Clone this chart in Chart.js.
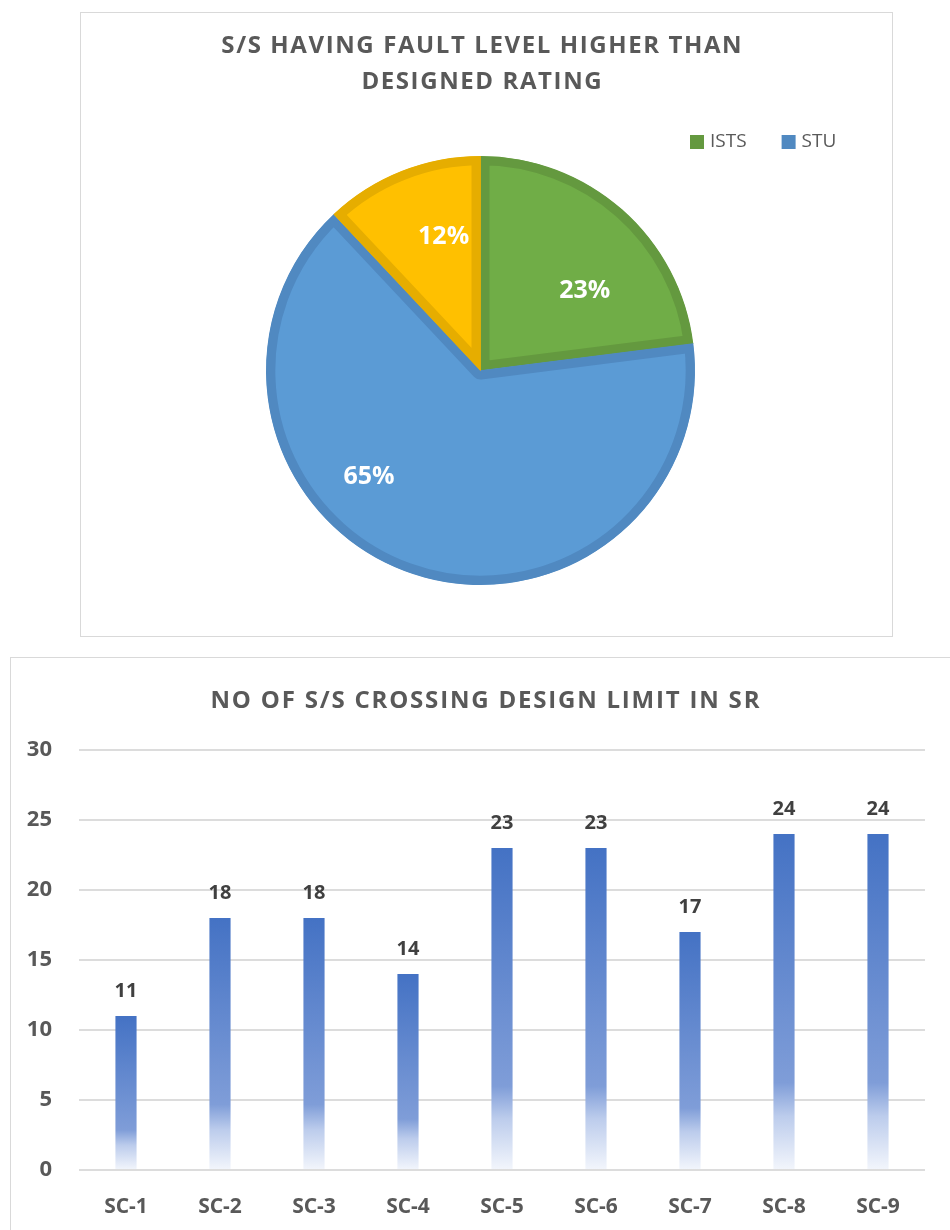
<!DOCTYPE html>
<html><head><meta charset="utf-8">
<script src="https://cdn.jsdelivr.net/npm/chart.js@4.4.0/dist/chart.umd.min.js"></script>
<style>
html,body{margin:0;padding:0;background:#fff;overflow:hidden;width:950px;height:1230px;position:relative;}
.box{position:absolute;box-sizing:border-box;border:1px solid #d9d9d9;background:#fff;}
#pieBox{left:80px;top:12px;width:813px;height:625px;}
#barBox{left:10px;top:657px;width:950px;height:590px;}
canvas{display:block;}
</style></head><body>
<div id="pieBox" class="box"><canvas id="pie" width="811" height="623" style="width:811px;height:623px"></canvas></div>
<div id="barBox" class="box"><canvas id="bar" width="948" height="588" style="width:948px;height:588px"></canvas></div>
<script>
// ---- data ----
const pieTitleLines = ['S/S HAVING FAULT LEVEL HIGHER THAN', 'DESIGNED RATING'];
const pieLabels = ['ISTS', 'STU', ''];
const pieValues = [23, 65, 12];
const pieFill = ['#70AD47', '#5B9BD5', '#FFC000'];
const pieBorder = ['#64993F', '#5089C1', '#E6AD00'];

const barTitle = 'NO OF S/S CROSSING DESIGN LIMIT IN SR';
const barCategories = ['SC-1', 'SC-2', 'SC-3', 'SC-4', 'SC-5', 'SC-6', 'SC-7', 'SC-8', 'SC-9'];
const barValues = [11, 18, 18, 14, 23, 23, 17, 24, 24];
const yTicks = [0, 5, 10, 15, 20, 25, 30];

const FONT = "'Open Sans', 'DejaVu Sans', sans-serif";

// ---- plugins ----
const titlePlugin = {
  id: 'customTitle',
  afterDraw(chart, args, o) {
    const ctx = chart.ctx; ctx.save();
    ctx.font = `${o.weight} ${o.size}px ${FONT}`;
    ctx.fillStyle = o.color; ctx.textAlign = 'center'; ctx.textBaseline = 'middle';
    if ('letterSpacing' in ctx) ctx.letterSpacing = o.spacing + 'px';
    o.lines.forEach((l, i) => ctx.fillText(l, o.x + o.spacing / 2, o.y + i * o.lineHeight));
    ctx.restore();
  }
};
const pieLegendPlugin = {
  id: 'pieLegend',
  afterDraw(chart, args, o) {
    const ctx = chart.ctx; ctx.save();
    ctx.font = `${o.size}px ${FONT}`; ctx.textBaseline = 'middle'; ctx.textAlign = 'left';
    let x = o.x;
    chart.data.labels.forEach((lab, i) => {
      if (!lab) return;
      ctx.fillStyle = chart.data.datasets[0].borderColor[i];
      ctx.fillRect(x, o.y - o.box / 2, o.box, o.box);
      ctx.fillStyle = o.color;
      ctx.fillText(lab, x + o.box + o.gap, o.y);
      x += o.box + o.gap + ctx.measureText(lab).width + o.itemGap;
    });
    ctx.restore();
  }
};
const pieValuePlugin = {
  id: 'pieValues',
  afterDatasetsDraw(chart, args, o) {
    const ctx = chart.ctx; const meta = chart.getDatasetMeta(0);
    ctx.save();
    ctx.font = `700 ${o.size}px ${FONT}`; ctx.fillStyle = '#ffffff';
    ctx.textAlign = 'center'; ctx.textBaseline = 'middle';
    meta.data.forEach((arc, i) => {
      const p = arc.getProps(['x', 'y', 'startAngle', 'endAngle', 'outerRadius'], true);
      const a = p.startAngle + o.angleFrac[i] * (p.endAngle - p.startAngle);
      const r = o.radiusFrac[i] * p.outerRadius;
      ctx.fillText(chart.data.datasets[0].data[i] + '%', p.x + Math.cos(a) * r, p.y + Math.sin(a) * r);
    });
    ctx.restore();
  }
};
const barValuePlugin = {
  id: 'barValues',
  afterDatasetsDraw(chart, args, o) {
    const ctx = chart.ctx; const meta = chart.getDatasetMeta(0);
    ctx.save();
    ctx.font = `700 ${o.size}px ${FONT}`; ctx.fillStyle = o.color;
    ctx.textAlign = 'center'; ctx.textBaseline = 'middle';
    meta.data.forEach((bar, i) => {
      ctx.fillText(String(chart.data.datasets[0].data[i]), bar.x, bar.y - o.offset);
    });
    ctx.restore();
  }
};

function barGradient(c) {
  const chart = c.chart; const y = chart.scales && chart.scales.y;
  if (!y || c.type !== 'data') return '#4472C4';
  const top = y.getPixelForValue(c.raw), base = y.getPixelForValue(0);
  if (!isFinite(top) || !isFinite(base) || top === base) return '#4472C4';
  const g = chart.ctx.createLinearGradient(0, top, 0, base);
  g.addColorStop(0, '#4472C4');
  g.addColorStop(0.74, '#7F9DD8');
  g.addColorStop(0.84, '#BCCCEC');
  g.addColorStop(1, '#F3F6FC');
  return g;
}

// ---- pie chart ----
new Chart(document.getElementById('pie'), {
  type: 'pie',
  data: {
    labels: pieLabels,
    datasets: [{
      data: pieValues, backgroundColor: pieFill, borderColor: pieBorder,
      borderWidth: 9, hoverBorderWidth: 9, borderAlign: 'inner', offset: 0, hoverOffset: 0
    }]
  },
  options: {
    responsive: false, animation: false, events: [],
    layout: { padding: { top: 143, bottom: 51, left: 32, right: 44 } },
    plugins: {
      legend: { display: false }, tooltip: { enabled: false },
      customTitle: { lines: pieTitleLines, x: 400.5, y: 33, lineHeight: 36, size: 24, weight: 700, spacing: 1.6, color: '#595959' },
      pieLegend: { x: 609, y: 129, box: 14, gap: 6, itemGap: 35, size: 19, color: '#595959' },
      pieValues: { size: 25, angleFrac: [0.635, 0.613, 0.643], radiusFrac: [0.612, 0.72, 0.647] }
    }
  },
  plugins: [titlePlugin, pieLegendPlugin, pieValuePlugin]
});

// ---- bar chart ----
new Chart(document.getElementById('bar'), {
  type: 'bar',
  data: {
    labels: barCategories,
    datasets: [{ data: barValues, backgroundColor: barGradient, borderWidth: 0, barPercentage: 0.225, categoryPercentage: 1 }]
  },
  options: {
    responsive: false, animation: false, events: [],
    layout: { padding: { top: 92, right: 34, bottom: 0, left: 0 } },
    scales: {
      x: {
        grid: { display: false, drawTicks: false }, border: { display: false },
        ticks: { color: '#595959', font: { family: FONT, size: 21, weight: '700' }, padding: 24 },
        afterFit: s => { s.height = 76; }
      },
      y: {
        min: 0, max: 30,
        afterBuildTicks: s => { s.ticks = yTicks.map(v => ({ value: v })); },
        grid: { color: '#dcdcdc', lineWidth: 2, drawTicks: false }, border: { display: false },
        ticks: { color: '#595959', font: { family: FONT, size: 22, weight: '700' }, padding: 27 },
        afterFit: s => { s.width = 68; }
      }
    },
    plugins: {
      legend: { display: false }, tooltip: { enabled: false },
      customTitle: { lines: [barTitle], x: 474, y: 43, lineHeight: 36, size: 24, weight: 700, spacing: 1.8, color: '#595959' },
      barValues: { size: 20, offset: 25, color: '#404040' }
    }
  },
  plugins: [titlePlugin, barValuePlugin]
});
</script>
</body></html>
